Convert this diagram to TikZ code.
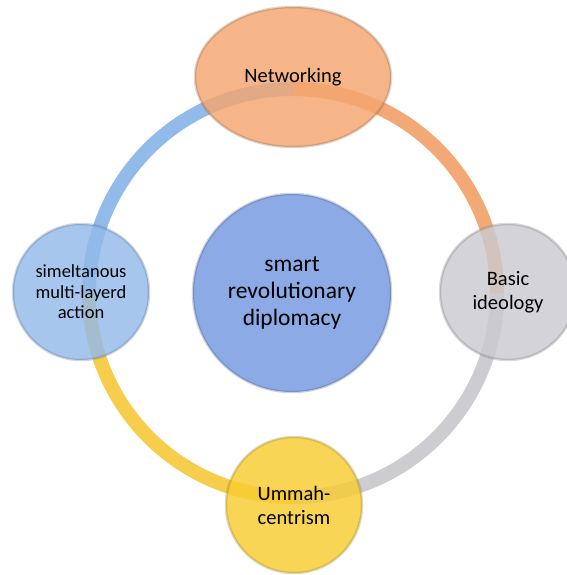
\documentclass[tikz,border=0pt]{standalone}
\usepackage{fontspec}
\setmainfont{Carlito}
\usetikzlibrary{shapes.geometric}
\pgfdeclarelayer{ring}
\pgfsetlayers{ring,main}
\definecolor{netorange}{HTML}{F4A56F}
\definecolor{actblue}{HTML}{92BAEA}
\definecolor{basicgray}{HTML}{CACACF}
\definecolor{ummahyellow}{HTML}{F8CC30}
\definecolor{smartblue}{HTML}{7398E0}
\definecolor{ringorange}{HTML}{F2A066}
\definecolor{ringblue}{HTML}{86B4E8}
\definecolor{ringgray}{HTML}{C6C6CC}
\definecolor{ringyellow}{HTML}{F5C83A}
\begin{document}
\begin{tikzpicture}[x=1pt,y=1pt,blob/.style={circle, minimum size=136pt, inner sep=0pt, align=center, font=\fontsize{20.5}{24}\selectfont, fill opacity=0.82, draw opacity=0.25, text opacity=1, line width=2.5pt},band/.style={line width=14pt, draw opacity=0.9}]
  \useasboundingbox (0,0) rectangle (566,-575);
  \node[blob, ellipse, minimum width=196pt, minimum height=140pt, fill=netorange, draw=netorange!50!black] (net) at (293,-77) {Networking};
  \node[blob, fill=basicgray, draw=basicgray!50!black] (basic) at (508,-292) {Basic\\ideology};
  \node[blob, fill=ummahyellow, draw=ummahyellow!50!black] (ummah) at (294,-505) {Ummah-\\centrism};
  \node[blob, fill=actblue, draw=actblue!50!black, font=\fontsize{18.5}{20.5}\selectfont] (act) at (81,-292) {simeltanous\\multi-layerd\\action};
  \node[blob, minimum size=198pt, fill=smartblue, draw=smartblue!50!black, font=\fontsize{23.5}{27}\selectfont] (smart) at (292,-293) {smart\\revolutionary\\diplomacy};
  \begin{pgfonlayer}{ring}
    \coordinate (o) at (293,-293);
    \draw[band, draw=ringblue] (o) ++(180:204) arc[start angle=180, end angle=90, radius=204pt];
    \draw[band, draw=ringorange] (o) ++(90:204) arc[start angle=90, end angle=0, radius=204pt];
    \draw[band, draw=ringgray] (o) ++(0:204) arc[start angle=0, end angle=-90, radius=204pt];
    \draw[band, draw=ringyellow] (o) ++(-90:204) arc[start angle=-90, end angle=-180, radius=204pt];
  \end{pgfonlayer}
\end{tikzpicture}
\end{document}
